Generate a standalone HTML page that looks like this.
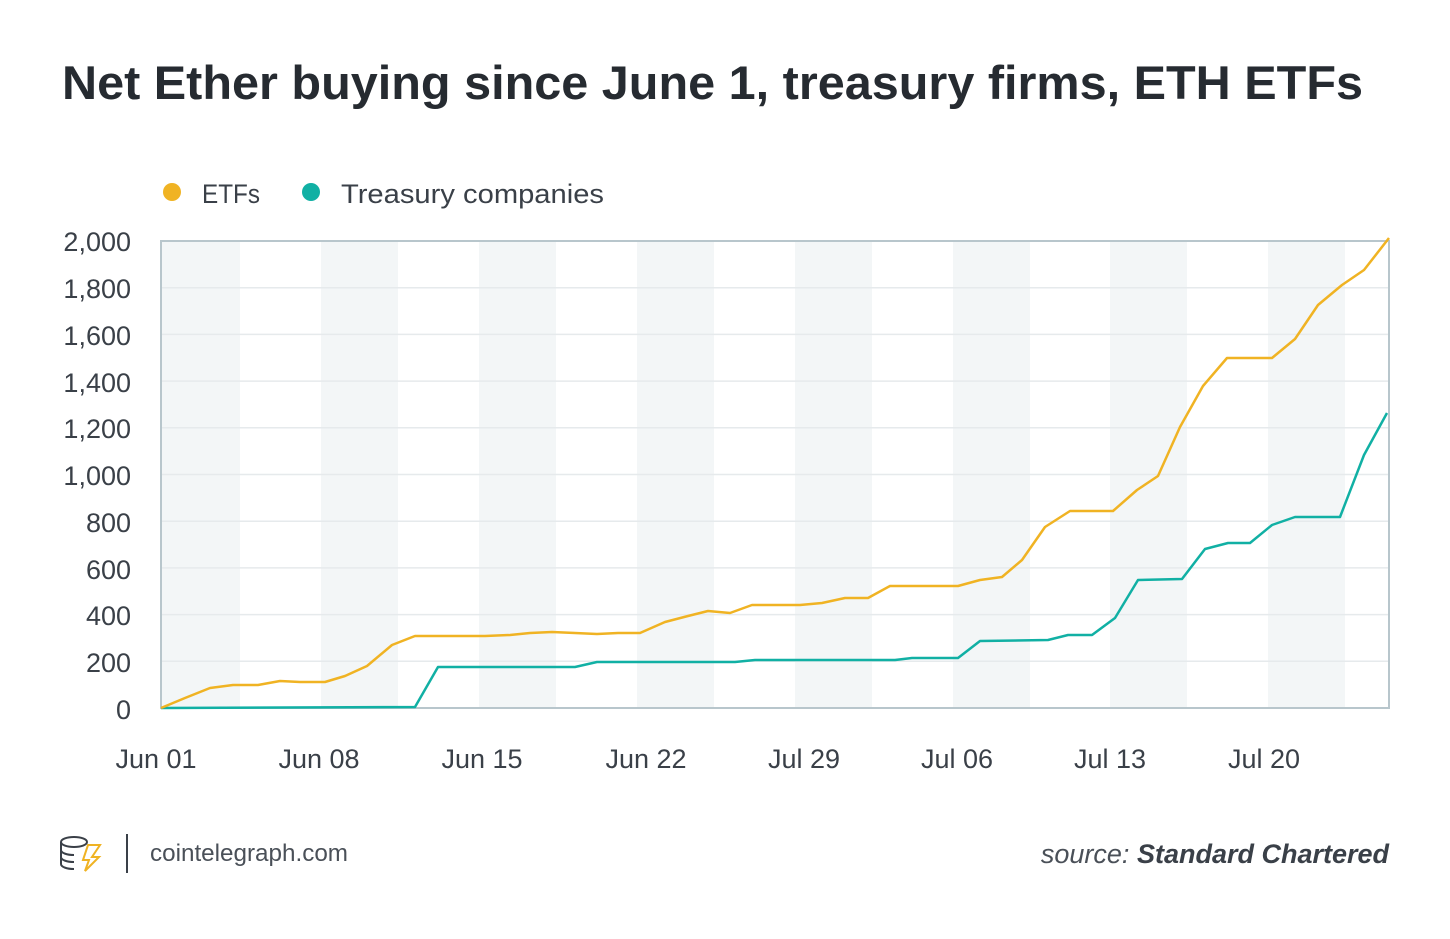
<!DOCTYPE html>
<html><head><meta charset="utf-8"><style>
body{margin:0;background:#fff;width:1450px;height:934px;overflow:hidden;font-family:"Liberation Sans","DejaVu Sans",sans-serif}
</style></head><body>
<svg width="1450" height="934" xmlns="http://www.w3.org/2000/svg" font-family="Liberation Sans, DejaVu Sans, sans-serif">
<text x="62" y="99" font-size="47" font-weight="bold" fill="#262b31" textLength="1301" lengthAdjust="spacingAndGlyphs">Net Ether buying since June 1, treasury firms, ETH ETFs</text>
<circle cx="172" cy="192" r="9" fill="#f0b323"/>
<text x="202" y="203" font-size="27" fill="#3a4048" textLength="58" lengthAdjust="spacingAndGlyphs">ETFs</text>
<circle cx="311" cy="192" r="9" fill="#11b0a4"/>
<text x="341" y="203" font-size="27" fill="#3a4048" textLength="263" lengthAdjust="spacingAndGlyphs">Treasury companies</text>
<g fill="#f3f6f7">
<rect x="161" y="241" width="79" height="467"/><rect x="321" y="241" width="77" height="467"/>
<rect x="479" y="241" width="77" height="467"/><rect x="637" y="241" width="77" height="467"/>
<rect x="795" y="241" width="77" height="467"/><rect x="953" y="241" width="77" height="467"/>
<rect x="1110" y="241" width="77" height="467"/><rect x="1268" y="241" width="77" height="467"/>
</g>
<g stroke="#e6eaec" stroke-width="1.5">
<line x1="161" x2="1389" y1="287.7" y2="287.7"/><line x1="161" x2="1389" y1="334.4" y2="334.4"/>
<line x1="161" x2="1389" y1="381.1" y2="381.1"/><line x1="161" x2="1389" y1="427.8" y2="427.8"/>
<line x1="161" x2="1389" y1="474.5" y2="474.5"/><line x1="161" x2="1389" y1="521.2" y2="521.2"/>
<line x1="161" x2="1389" y1="567.9" y2="567.9"/><line x1="161" x2="1389" y1="614.6" y2="614.6"/>
<line x1="161" x2="1389" y1="661.3" y2="661.3"/>
</g>
<rect x="161" y="241" width="1228" height="467" fill="none" stroke="#b8c6cc" stroke-width="2"/>
<g font-size="27" fill="#3a4048" text-anchor="end">
<text x="131" y="251">2,000</text><text x="131" y="298">1,800</text><text x="131" y="345">1,600</text>
<text x="131" y="392">1,400</text><text x="131" y="438">1,200</text><text x="131" y="485">1,000</text>
<text x="131" y="532">800</text><text x="131" y="579">600</text><text x="131" y="625">400</text>
<text x="131" y="672">200</text><text x="131" y="719">0</text>
</g>
<g font-size="27" fill="#3a4048" text-anchor="middle">
<text x="156" y="768">Jun 01</text><text x="319" y="768">Jun 08</text><text x="482" y="768">Jun 15</text>
<text x="646" y="768">Jun 22</text><text x="804" y="768">Jul 29</text><text x="957" y="768">Jul 06</text>
<text x="1110" y="768">Jul 13</text><text x="1264" y="768">Jul 20</text>
</g>
<polyline fill="none" stroke="#11b0a4" stroke-width="2.5" stroke-linejoin="round" points="161,708 415,707 438,667 460,667 575,667 597,662 735,662 755,660 895,660 912,658 958,658 980,641 1048,640 1068,635 1092,635 1115,618 1138,580 1182,579 1205,549 1228,543 1250,543 1272,525 1295,517 1340,517 1364,455 1387,413"/>
<polyline fill="none" stroke="#f0b323" stroke-width="2.5" stroke-linejoin="round" points="161,708 185,698 210,688 233,685 258,685 280,681 300,682 325,682 345,676 367,666 392,645 415,636 440,636 462,636 485,636 510,635 530,633 552,632 575,633 597,634 618,633 640,633 665,622 688,616 708,611 730,613 752,605 775,605 800,605 822,603 845,598 868,598 890,586 912,586 935,586 958,586 980,580 1002,577 1022,560 1045,527 1070,511 1092,511 1113,511 1137,490 1158,476 1180,427 1203,386 1227,358 1248,358 1272,358 1295,339 1318,305 1342,285 1364,270 1389,238"/>
<g fill="none" stroke="#3a4048" stroke-width="2">
<ellipse cx="74" cy="842" rx="13" ry="5"/><path d="M61 842v22c0 3 6 5 13 5M61 850c0 3 6 5 13 5M61 857c0 3 6 5 13 5"/>
<path d="M88 845l12 0-8 12h7l-14 14 4-11h-6z" stroke="#f0b323"/>
</g>
<line x1="127" y1="834" x2="127" y2="873" stroke="#3a4048" stroke-width="2"/>
<text x="150" y="861" font-size="24" fill="#4a5058" textLength="198" lengthAdjust="spacingAndGlyphs">cointelegraph.com</text>
<text x="1389" y="863" font-size="27" font-style="italic" fill="#4a5058" text-anchor="end">source: <tspan font-weight="bold" fill="#3a4048">Standard Chartered</tspan></text>
</svg>
</body></html>
